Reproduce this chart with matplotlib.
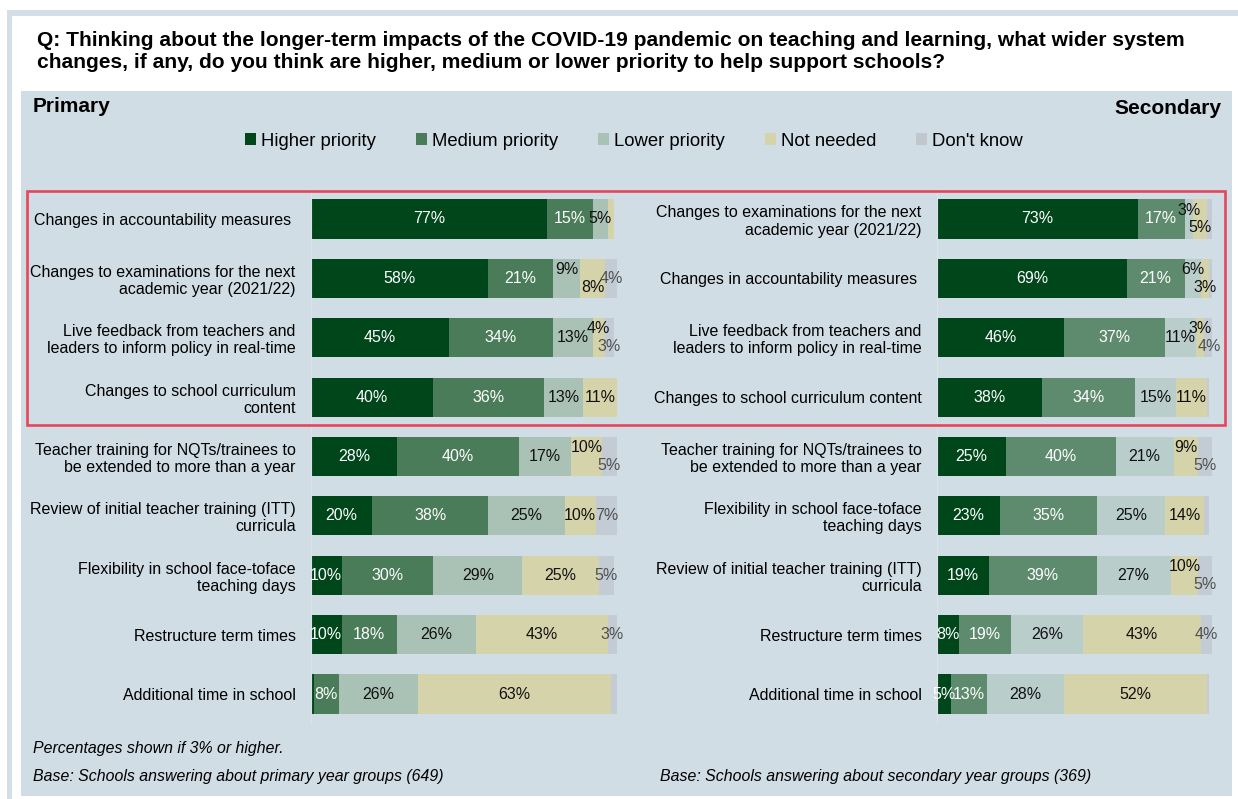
import numpy as np
import matplotlib
matplotlib.use("Agg")
import matplotlib.pyplot as plt
from matplotlib.patches import Rectangle, Patch

plt.rcParams['font.family'] = ['Liberation Sans', 'DejaVu Sans']

W, H = 1238, 799

# ---- data ----
series = ["Higher priority", "Medium priority", "Lower priority", "Not needed", "Don't know"]

primary_labels = [
    "Changes in accountability measures ",
    "Changes to examinations for the next\nacademic year (2021/22)",
    "Live feedback from teachers and\nleaders to inform policy in real-time",
    "Changes to school curriculum\ncontent",
    "Teacher training for NQTs/trainees to\nbe extended to more than a year",
    "Review of initial teacher training (ITT)\ncurricula",
    "Flexibility in school face-toface\nteaching days",
    "Restructure term times",
    "Additional time in school",
]
primary_higher = [77, 58, 45, 40, 28, 20, 10, 10, 1]
primary_medium = [15, 21, 34, 36, 40, 38, 30, 18, 8]
primary_lower = [5, 9, 13, 13, 17, 25, 29, 26, 26]
primary_notneeded = [2, 8, 4, 11, 10, 10, 25, 43, 63]
primary_dontknow = [0, 4, 3, 0, 5, 7, 5, 3, 2]

secondary_labels = [
    "Changes to examinations for the next\nacademic year (2021/22)",
    "Changes in accountability measures ",
    "Live feedback from teachers and\nleaders to inform policy in real-time",
    "Changes to school curriculum content",
    "Teacher training for NQTs/trainees to\nbe extended to more than a year",
    "Flexibility in school face-toface\nteaching days",
    "Review of initial teacher training (ITT)\ncurricula",
    "Restructure term times",
    "Additional time in school",
]
secondary_higher = [73, 69, 46, 38, 25, 23, 19, 8, 5]
secondary_medium = [17, 21, 37, 34, 40, 35, 39, 19, 13]
secondary_lower = [3, 6, 11, 15, 21, 25, 27, 26, 28]
secondary_notneeded = [5, 3, 3, 11, 9, 14, 10, 43, 52]
secondary_dontknow = [2, 1, 4, 1, 5, 2, 5, 4, 1]

# ---- style ----
BG = '#D0DDE5'
HIGHER = '#00461B'
NOT_NEEDED = '#D5D3A9'
DONT_KNOW = '#C3CCD5'
primary_colors = [HIGHER, '#4A7C59', '#AAC2B6', NOT_NEEDED, DONT_KNOW]
secondary_colors = [HIGHER, '#5E8B6E', '#B9CDCA', NOT_NEEDED, DONT_KNOW]
text_colors = ['white', 'white', '#111111', '#111111', '#505050']

# small labels staggered up (-1) / down (+1) like in the original
primary_nudge = np.zeros((9, 5))
primary_nudge[1, 2:4] = [-1, 1]
primary_nudge[2, 3:5] = [-1, 1]
primary_nudge[4, 3:5] = [-1, 1]
secondary_nudge = np.zeros((9, 5))
secondary_nudge[0, 2:4] = [-1, 1]
secondary_nudge[1, 2:4] = [-1, 1]
secondary_nudge[2, 3:5] = [-1, 1]
secondary_nudge[4, 3:5] = [-1, 1]
secondary_nudge[6, 3:5] = [-1, 1]

FS = 11.5


def fx(px):
    return px / W


def fy(py):
    return 1 - py / H


def draw_panel(ax, labels, values, colors, nudge):
    values = np.array(values, dtype=float)
    y = np.arange(len(labels))
    left = np.zeros(len(labels))
    for k in range(values.shape[0]):
        ax.barh(y, values[k], left=left, height=0.66, color=colors[k], linewidth=0)
        for i in range(len(labels)):
            v = values[k, i]
            if v >= 3:
                ax.text(left[i] + v / 2, y[i] + nudge[i, k] * 0.15, f"{int(v)}%",
                        ha='center', va='center', fontsize=FS, color=text_colors[k])
        left += values[k]
    ax.set_xlim(0, 100)
    ax.set_ylim(len(labels) - 0.5, -0.5)
    ax.set_yticks(y)
    ax.set_yticklabels(labels, fontsize=FS, linespacing=1.17)
    ax.tick_params(axis='y', length=0, pad=11)
    ax.set_xticks([])
    ax.set_facecolor('none')
    for s in ['top', 'right', 'bottom']:
        ax.spines[s].set_visible(False)
    ax.spines['left'].set_color('#DCE3E8')
    ax.spines['left'].set_linewidth(0.8)


fig = plt.figure(figsize=(W / 100, H / 100), dpi=100)
fig.patch.set_facecolor('white')

# frame and panel background
fig.patches.append(Rectangle((fx(7), 0), 1, fy(10), transform=fig.transFigure,
                             facecolor='#D3DEE6', edgecolor='none', zorder=-3))
fig.patches.append(Rectangle((fx(12), 0), 1, fy(16), transform=fig.transFigure,
                             facecolor='white', edgecolor='none', zorder=-2))
fig.patches.append(Rectangle((fx(21), fy(796)), fx(1232 - 21), fy(91) - fy(796),
                             transform=fig.transFigure, facecolor=BG, edgecolor='none', zorder=-1))

fig.text(fx(37), fy(52),
         "Q: Thinking about the longer-term impacts of the COVID-19 pandemic on teaching and learning, what wider system\n"
         "changes, if any, do you think are higher, medium or lower priority to help support schools?",
         fontsize=15.1, fontweight='bold', ha='left', va='center', linespacing=1.2)

fig.text(fx(33), fy(106), "Primary", fontsize=15, fontweight='bold', ha='left', va='center')
fig.text(fx(1221), fy(108), "Secondary", fontsize=15, fontweight='bold', ha='right', va='center')

handles = [Patch(facecolor=c, edgecolor='none', label=s) for c, s in zip(primary_colors, series)]
handles[4] = Patch(facecolor='#C0C8CE', edgecolor='none', label=series[4])
fig.legend(handles=handles, ncol=5, loc='center', bbox_to_anchor=(fx(634), fy(141)),
           frameon=False, fontsize=13.3, handlelength=0.6, handleheight=0.6,
           handletextpad=0.25, columnspacing=2.18)

ax_top, ax_bot = 219 - 29.7, 694 + 29.7
ax1 = fig.add_axes([fx(311), fy(ax_bot), fx(306), fy(ax_top) - fy(ax_bot)])
ax2 = fig.add_axes([fx(937), fy(ax_bot), fx(275), fy(ax_top) - fy(ax_bot)])

draw_panel(ax1, primary_labels,
           [primary_higher, primary_medium, primary_lower, primary_notneeded, primary_dontknow],
           primary_colors, primary_nudge)
draw_panel(ax2, secondary_labels,
           [secondary_higher, secondary_medium, secondary_lower, secondary_notneeded, secondary_dontknow],
           secondary_colors, secondary_nudge)

# highlight box round the top four rows
fig.patches.append(Rectangle((fx(27), fy(425)), fx(1225 - 27), fy(191) - fy(425),
                             transform=fig.transFigure, facecolor='none',
                             edgecolor='#E8455A', linewidth=1.9, zorder=5))

fig.text(fx(33), fy(748), "Percentages shown if 3% or higher.", fontsize=11.4, style='italic',
         ha='left', va='center')
fig.text(fx(33), fy(776), "Base: Schools answering about primary year groups (649)", fontsize=11.4,
         style='italic', ha='left', va='center')
fig.text(fx(660), fy(776), "Base: Schools answering about secondary year groups (369)", fontsize=11.4,
         style='italic', ha='left', va='center')

fig.savefig('out.png', dpi=100)
